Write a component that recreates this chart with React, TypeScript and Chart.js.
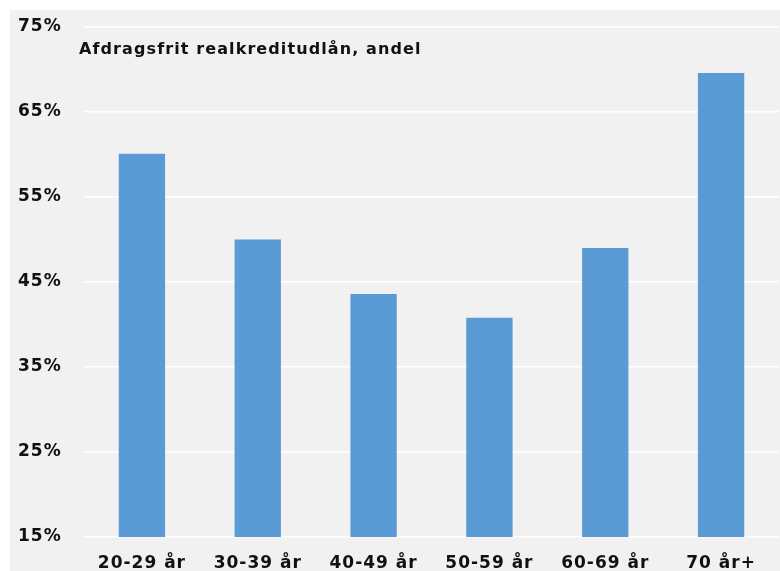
import { useEffect, useRef } from "react";
import { Chart, registerables } from "chart.js";

Chart.register(...registerables);

const categories = ["20-29 år", "30-39 år", "40-49 år", "50-59 år", "60-69 år", "70 år+"];
const shares = [60.1, 50.0, 43.6, 40.8, 49.0, 69.6];
const yTicks = [15, 25, 35, 45, 55, 65, 75];
const chartTitle = "Afdragsfrit realkreditudlån, andel";

const FONT = "'DejaVu Sans', Verdana, sans-serif";

const spacingPlugin = {
  id: "spacing",
  beforeUpdate(chart: any) {
    chart.ctx.letterSpacing = "1px";
  },
  beforeDraw(chart: any) {
    chart.ctx.letterSpacing = "1px";
  },
};

const titlePlugin = {
  id: "innerTitle",
  afterDraw(chart: any) {
    const ctx = chart.ctx;
    ctx.save();
    ctx.letterSpacing = "1.1px";
    ctx.font = `bold 16px ${FONT}`;
    ctx.fillStyle = "#111";
    ctx.textAlign = "left";
    ctx.textBaseline = "alphabetic";
    ctx.fillText(chartTitle, chart.chartArea.left - 5, 44);
    ctx.restore();
  },
};

export default function App() {
  const ref = useRef<HTMLCanvasElement | null>(null);

  useEffect(() => {
    if (!ref.current) return;
    const chart = new Chart(ref.current, {
      type: "bar",
      data: {
        labels: categories,
        datasets: [
          {
            data: shares,
            backgroundColor: "#5b9bd5",
            borderWidth: 0,
            categoryPercentage: 0.8,
            barPercentage: 0.5,
          },
        ],
      },
      options: {
        animation: false,
        responsive: false,
        layout: { padding: { left: 8, right: 1, top: 17, bottom: 0 } },
        plugins: {
          legend: { display: false },
          tooltip: { enabled: false },
          title: { display: false },
        },
        scales: {
          x: {
            grid: { display: false, drawTicks: false },
            border: { display: false },
            afterFit: (axis: any) => {
              axis.height = 34;
            },
            ticks: {
              color: "#111",
              font: { family: FONT, size: 17, weight: "bold" },
              padding: 16,
              maxRotation: 0,
            },
          },
          y: {
            min: 15,
            max: 75,
            afterBuildTicks: (axis: any) => {
              axis.ticks = yTicks.map((v) => ({ value: v }));
            },
            afterFit: (axis: any) => {
              axis.width = 66;
              axis.paddingTop = 0;
              axis.paddingBottom = 0;
            },
            grid: { color: "#ffffff", lineWidth: 1.5, drawTicks: false },
            border: { display: false },
            ticks: {
              color: "#111",
              font: { family: FONT, size: 17, weight: "bold" },
              padding: 12,
              crossAlign: "far",
              callback: (v: any) => `${v}%`,
            },
          },
        },
      },
      plugins: [spacingPlugin, titlePlugin],
    });
    return () => chart.destroy();
  }, []);

  return (
    <div
      style={{
        position: "fixed",
        left: 10,
        top: 10,
        width: 770,
        height: 561,
        background: "#f1f1f1",
      }}
    >
      <canvas ref={ref} width={770} height={561} />
    </div>
  );
}
